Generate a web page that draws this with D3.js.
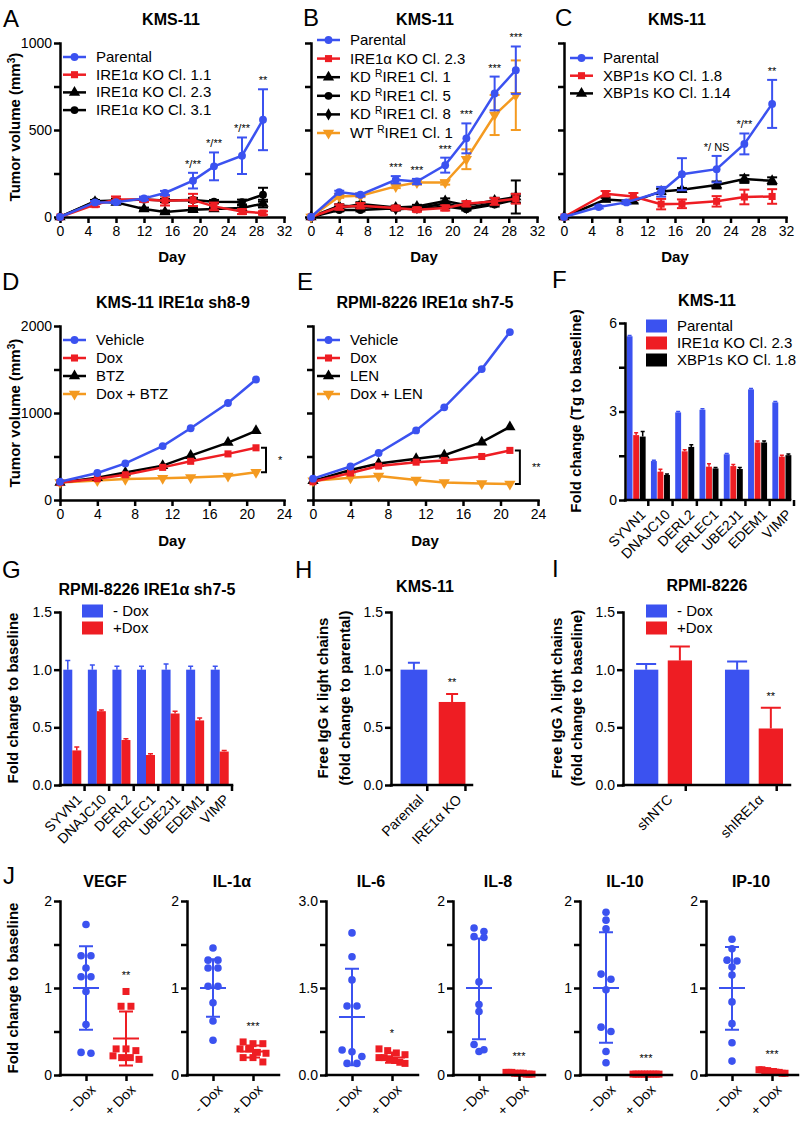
<!DOCTYPE html>
<html>
<head>
<meta charset="utf-8">
<script src="https://cdn.jsdelivr.net/npm/d3@7"></script>
<style>
body { margin: 0; background: #fff; }
text { font-family: "Liberation Sans", Arial, Helvetica, sans-serif; fill: #000; }
</style>
</head>
<body>
<svg id="fig" width="800" height="1127"></svg>
<script>
const BLUE = "#3b52f0";
const RED = "#ee1d23";
const ORANGE = "#f49a20";
const BLACK = "#000";

// tick values
const dayTicks32 = [0, 4, 8, 12, 16, 20, 24, 28, 32];
const dayTicks24 = [0, 4, 8, 12, 16, 20, 24];
const volTicks1000 = [0, 250, 500, 750, 1000];
const volLabels1000 = [0, 500, 1000];
const volTicks2000 = [0, 500, 1000, 1500, 2000];
const volLabels2000 = [0, 1000, 2000];
const foldTicks6 = [0, 1.5, 3, 4.5, 6];
const foldLabels6 = [0, 3, 6];
const ratioTicks = [0, 0.5, 1, 1.5];
const jTicks2 = [0, 0.5, 1, 1.5, 2];
const jLabels2 = [0, 1, 2];
const jTicks3 = [0, 0.75, 1.5, 2.25, 3];
const jLabels3 = [0, 1.5, 3];

// A
const aDays = [0, 5, 8, 12, 15, 19, 22, 26, 29];
const aParental = [0, 84, 85, 107, 138, 209, 291, 352, 559];
const aParentalErr = [0, 8, 8, 10, 12, 45, 80, 105, 175];
const aKO11 = [0, 71, 100, 100, 94, 98, 61, 31, 23];
const aKO11Err = [0, 12, 18, 12, 28, 35, 22, 14, 10];
const aKO23 = [0, 88, 84, 46, 29, 42, 46, 52, 77];
const aKO23Err = [0, 8, 8, 8, 8, 10, 10, 14, 22];
const aKO31 = [0, 90, 95, 100, 95, 98, 88, 86, 128];
const aKO31Err = [0, 8, 10, 10, 10, 12, 10, 14, 40];
const aSig = ["", "", "", "", "", "*/**", "*/**", "*/**", "**"];

// B
const bDays = [0, 4, 7, 12, 15, 19, 22, 26, 29];
const bParental = [0, 143, 128, 214, 204, 298, 452, 710, 844];
const bParentalErr = [0, 8, 8, 21, 15, 43, 86, 97, 136];
const bKO23 = [0, 57, 65, 52, 42, 52, 76, 90, 105];
const bKO23Err = [0, 15, 15, 10, 12, 15, 15, 20, 28];
const bKD1 = [0, 50, 75, 55, 60, 92, 68, 95, 115];
const bKD1Err = [0, 10, 10, 10, 10, 15, 10, 15, 95];
const bKD5 = [0, 40, 40, 50, 45, 60, 45, 72, 100];
const bKD5Err = [0, 8, 8, 8, 8, 10, 8, 12, 20];
const bKD8 = [0, 65, 60, 45, 50, 78, 50, 82, 108];
const bKD8Err = [0, 8, 8, 8, 8, 10, 8, 12, 25];
const bWT = [0, 118, 122, 176, 198, 198, 332, 586, 700];
const bWTErr = [0, 8, 8, 10, 12, 12, 57, 115, 200];
const bSig = ["", "", "", "***", "***", "***", "***", "***", "***"];

// C
const cDaysP = [0, 5, 9, 14, 17, 22, 26, 30];
const cParental = [0, 57, 84, 145, 246, 275, 420, 650];
const cParentalErr = [0, 8, 10, 28, 92, 76, 60, 138];
const cDaysKO = [0, 6, 10, 14, 17, 22, 26, 30];
const cXbp18 = [0, 134, 118, 74, 76, 90, 115, 118];
const cXbp18Err = [0, 15, 20, 30, 25, 30, 42, 42];
const cXbp114 = [0, 100, 90, 147, 157, 184, 218, 208];
const cXbp114Err = [0, 10, 10, 15, 10, 20, 22, 20];
const cSig = ["", "", "", "", "", "*/ NS", "*/**", "**"];

// D
const dDays = [0, 4, 7, 11, 14, 18, 21];
const dVehicle = [210, 310, 420, 620, 825, 1115, 1385];
const dDox = [200, 245, 290, 375, 445, 530, 600];
const dBtz = [200, 255, 315, 395, 510, 660, 795];
const dDoxBtz = [200, 225, 240, 250, 260, 275, 320];

// E
const eDays = [0, 4, 7, 11, 14, 18, 21];
const eVehicle = [245, 385, 540, 800, 1065, 1505, 1930];
const eDox = [210, 310, 390, 435, 455, 500, 570];
const eLen = [220, 345, 420, 475, 515, 665, 840];
const eDoxLen = [220, 255, 275, 230, 200, 190, 185];

// F
const fGenes = ["SYVN1", "DNAJC10", "DERL2", "ERLEC1", "UBE2J1", "EDEM1", "VIMP"];
const fParental = [5.55, 1.32, 2.97, 3.06, 1.55, 3.75, 3.31];
const fParentalErr = [0.03, 0.03, 0.03, 0.03, 0.03, 0.03, 0.03];
const fIre = [2.2, 0.96, 1.65, 1.13, 1.15, 1.95, 1.47];
const fIreErr = [0.08, 0.08, 0.05, 0.1, 0.05, 0.05, 0.05];
const fXbp = [2.15, 0.85, 1.8, 1.07, 1.05, 1.95, 1.52];
const fXbpErr = [0.17, 0.03, 0.07, 0.03, 0.05, 0.05, 0.04];

// G
const gGenes = ["SYVN1", "DNAJC10", "DERL2", "ERLEC1", "UBE2J1", "EDEM1", "VIMP"];
const gMinus = [1, 1, 1, 1, 1, 1, 1];
const gMinusErr = [0.08, 0.04, 0.03, 0.03, 0.05, 0.03, 0.03];
const gPlus = [0.30, 0.64, 0.39, 0.26, 0.62, 0.56, 0.29];
const gPlusErr = [0.03, 0.01, 0.01, 0.01, 0.02, 0.02, 0.01];

// H
const hGroups = ["Parental", "IRE1α KO"];
const hVals = [1.0, 0.72];
const hErrs = [0.06, 0.07];
const hSig = ["", "**"];

// I
const iGroups = ["shNTC", "shIRE1α"];
const iMinus = [1.0, 1.0];
const iMinusErr = [0.05, 0.07];
const iPlus = [1.08, 0.49];
const iPlusErr = [0.12, 0.18];
const iSig = ["", "**"];

// J
const jNames = ["VEGF", "IL-1α", "IL-6", "IL-8", "IL-10", "IP-10"];
const jGroups = ["- Dox", "+ Dox"];
const jMax = [2, 2, 3, 2, 2, 2];
const jMinus = [
  [1.73, 1.37, 1.37, 1.23, 1.13, 1.13, 0.96, 0.58, 0.25, 0.26],
  [1.46, 1.32, 1.32, 1.23, 1.23, 1.02, 1.02, 0.83, 0.62, 0.40],
  [2.45, 2.04, 1.64, 1.19, 1.19, 0.43, 0.40, 0.32, 0.20, 0.20],
  [1.69, 1.65, 1.59, 1.58, 1.07, 0.81, 0.73, 0.35, 0.29, 0.27],
  [1.87, 1.78, 1.68, 1.16, 1.10, 0.98, 0.55, 0.50, 0.27, 0.14],
  [1.56, 1.45, 1.32, 1.31, 1.24, 1.15, 0.84, 0.59, 0.37, 0.16]
];
const jPlus = [
  [0.96, 0.79, 0.79, 0.30, 0.28, 0.30, 0.22, 0.20, 0.18, 0.20],
  [0.38, 0.36, 0.36, 0.30, 0.30, 0.26, 0.25, 0.20, 0.20, 0.15],
  [0.45, 0.42, 0.38, 0.35, 0.30, 0.30, 0.28, 0.25, 0.22, 0.20],
  [0.03, 0.02, 0.01, 0.02, 0.03, 0.01, 0.02, 0.02, 0.01, 0.03],
  [0.01, 0.01, 0.01, 0.01, 0.01, 0.01, 0.01, 0.01, 0.01, 0.01],
  [0.06, 0.05, 0.04, 0.03, 0.02, 0.05, 0.04, 0.03, 0.02, 0.06]
];
const jMeanMinus = [1.0, 1.0, 1.0, 1.0, 1.0, 1.0];
const jSdMinus = [[0.52, 1.48], [0.67, 1.33], [0.17, 1.83], [0.41, 1.57], [0.37, 1.64], [0.52, 1.47]];
const jMeanPlus = [0.42, 0.27, 0.30, 0.02, 0.01, 0.04];
const jSdPlus = [[0.11, 0.73], [0.20, 0.34], [0.21, 0.39], [0.01, 0.03], [0.005, 0.015], [0.02, 0.06]];
const jSig = ["**", "***", "*", "***", "***", "***"];

let svg = d3.select("#fig");

// ---------- helpers ----------
function styleAxis(g) {
  g.attr("font-family", null).attr("font-size", null);
  g.select(".domain").attr("stroke", "#000").attr("stroke-width", 2.5).attr("stroke-linecap", "square");
  g.selectAll(".tick line").attr("stroke", "#000").attr("stroke-width", 2.5);
  g.selectAll(".tick text").attr("font-size", 14).attr("fill", "#000");
}

function yAxis(x0, y, ticks, labels, fmt) {
  let g = svg.append("g")
    .attr("transform", `translate(${x0},0)`)
    .call(d3.axisLeft(y).tickValues(ticks).tickSize(6).tickSizeOuter(0).tickPadding(2)
      .tickFormat(d => labels.includes(d) ? fmt(d) : ""));
  styleAxis(g);
}

function xAxisLinear(y0, x, ticks) {
  let g = svg.append("g")
    .attr("transform", `translate(0,${y0})`)
    .call(d3.axisBottom(x).tickValues(ticks).tickSize(6).tickSizeOuter(0).tickPadding(3));
  styleAxis(g);
}

function xAxisCat(y0, x, x1, x2, labels) {
  let half = x.bandwidth ? x.bandwidth() / 2 : 0;
  let g = svg.append("g")
    .attr("transform", `translate(${half},${y0})`)
    .call(d3.axisBottom(x).tickSize(6).tickSizeOuter(0).tickFormat(""));
  g.select(".domain").remove();
  styleAxis(g);
  svg.append("line")
    .attr("x1", x1).attr("x2", x2).attr("y1", y0).attr("y2", y0)
    .attr("stroke", "#000").attr("stroke-width", 2.5).attr("stroke-linecap", "square");
  svg.append("g").selectAll("text")
    .data(x.domain())
    .join("text")
    .attr("transform", (d) => `translate(${x(d) + half + 7},${y0 + 12}) rotate(-45)`)
    .attr("text-anchor", "end")
    .attr("dy", "0.35em")
    .attr("font-size", 14)
    .text((d, i) => labels[i]);
}

function richText(sel, str) {
  str.split("^").forEach((s, i) => {
    let t = sel.append("tspan").text(s);
    if (i % 2) t.attr("baseline-shift", "super").attr("font-size", "68%");
  });
}

function label(x, y, str, size, weight, anchor) {
  let t = svg.append("text")
    .attr("x", x).attr("y", y)
    .attr("font-size", size)
    .attr("font-weight", weight || "normal")
    .attr("text-anchor", anchor || "start");
  richText(t, str);
  return t;
}

function yTitle(x, y, str) {
  let t = svg.append("text")
    .attr("transform", `translate(${x},${y}) rotate(-90)`)
    .attr("text-anchor", "middle")
    .attr("font-size", 15)
    .attr("font-weight", "bold");
  richText(t, str);
}

function symbolPath(type, size) {
  let sym = {circle: d3.symbolCircle, square: d3.symbolSquare, triangle: d3.symbolTriangle,
             down: d3.symbolTriangle, diamond: d3.symbolDiamond}[type];
  return d3.symbol().type(sym).size(size)();
}
const markerSize = {circle: 48, square: 50, triangle: 55, down: 55, diamond: 42};

function drawMarker(g, type, color) {
  g.append("path")
    .attr("d", symbolPath(type, markerSize[type]))
    .attr("transform", type === "down" ? "rotate(180)" : null)
    .attr("fill", color);
}

function linePanel(p) {
  let x = d3.scaleLinear().domain([0, p.xMax]).range(p.xr);
  let y = d3.scaleLinear().domain([0, p.yMax]).range(p.yr);
  yAxis(p.xr[0], y, p.yTicks, p.yLabels, p.yFmt || (d => d));
  xAxisLinear(p.yr[0], x, p.xTicks);

  p.series.forEach(s => {
    let pts = s.days.map((d, i) => ({d: d, v: s.vals[i], e: s.errs ? s.errs[i] : 0}));
    let g = svg.append("g");
    g.append("path")
      .datum(pts)
      .attr("d", d3.line().x(q => x(q.d)).y(q => y(q.v)))
      .attr("fill", "none")
      .attr("stroke", s.color)
      .attr("stroke-width", 2.5);
    let eb = g.selectAll(".eb").data(pts.filter(q => q.e > 0)).join("g");
    eb.append("line")
      .attr("x1", q => x(q.d)).attr("x2", q => x(q.d))
      .attr("y1", q => y(q.v - q.e)).attr("y2", q => y(q.v + q.e))
      .attr("stroke", s.color).attr("stroke-width", 2);
    [-1, 1].forEach(k => {
      eb.append("line")
        .attr("x1", q => x(q.d) - 5).attr("x2", q => x(q.d) + 5)
        .attr("y1", q => y(q.v + k * q.e)).attr("y2", q => y(q.v + k * q.e))
        .attr("stroke", s.color).attr("stroke-width", 2);
    });
    g.selectAll(".mk").data(pts).join("g")
      .attr("transform", q => `translate(${x(q.d)},${y(q.v)})`)
      .each(function () { drawMarker(d3.select(this), s.mk, s.color); });
  });

  if (p.sig) {
    svg.append("g").selectAll("text")
      .data(p.sig.days.map((d, i) => ({d: d, top: p.sig.vals[i] + p.sig.errs[i], t: p.sig.labels[i]})))
      .join("text")
      .attr("x", q => x(q.d))
      .attr("y", q => y(q.top) - 5)
      .attr("text-anchor", "middle")
      .attr("font-size", 11)
      .text(q => q.t);
  }
  return {x: x, y: y};
}

function lineLegend(x, y0, dy, items) {
  items.forEach((it, i) => {
    let yc = y0 + i * dy;
    svg.append("line")
      .attr("x1", x).attr("x2", x + 23).attr("y1", yc).attr("y2", yc)
      .attr("stroke", it.color).attr("stroke-width", 2.5);
    let g = svg.append("g").attr("transform", `translate(${x + 11.5},${yc})`);
    drawMarker(g, it.mk, it.color);
    label(x + 33, yc + 5, it.text, 15);
  });
}

function boxLegend(x, y0, dy, items) {
  items.forEach((it, i) => {
    let yc = y0 + i * dy;
    svg.append("rect")
      .attr("x", x).attr("y", yc - 6.5).attr("width", 21).attr("height", 13)
      .attr("fill", it.color);
    label(x + 31, yc + 5, it.text, 15);
  });
}

function bracket(x, yA, yB, txt) {
  svg.append("path")
    .attr("d", `M${x - 5},${yA}H${x}V${yB}H${x - 5}`)
    .attr("fill", "none").attr("stroke", "#000").attr("stroke-width", 2);
  svg.append("text")
    .attr("x", x + 12).attr("y", (yA + yB) / 2 + 4)
    .attr("font-size", 11)
    .text(txt);
}

function upBars(g, data, color, err) {
  // data: [{cx, w, v, e}] already in pixel x, value in y units
}

// ---------- Row 1 ----------
label(3, 27, "A", 24);
label(171, 25, "KMS-11", 16, "bold", "middle");
linePanel({
  xr: [60, 284], yr: [217, 43], xMax: 32, yMax: 1000,
  xTicks: dayTicks32, yTicks: volTicks1000, yLabels: volLabels1000,
  series: [
    {days: aDays, vals: aKO31, errs: aKO31Err, color: BLACK, mk: "circle"},
    {days: aDays, vals: aKO23, errs: aKO23Err, color: BLACK, mk: "triangle"},
    {days: aDays, vals: aKO11, errs: aKO11Err, color: RED, mk: "square"},
    {days: aDays, vals: aParental, errs: aParentalErr, color: BLUE, mk: "circle"}
  ],
  sig: {days: aDays, vals: aParental, errs: aParentalErr, labels: aSig}
});
lineLegend(63, 57, 17.7, [
  {text: "Parental", color: BLUE, mk: "circle"},
  {text: "IRE1α KO Cl. 1.1", color: RED, mk: "square"},
  {text: "IRE1α KO Cl. 2.3", color: BLACK, mk: "triangle"},
  {text: "IRE1α KO Cl. 3.1", color: BLACK, mk: "circle"}
]);
yTitle(20, 127, "Tumor volume (mm^3^)");
label(172, 262, "Day", 15, "bold", "middle");

label(303, 26, "B", 24);
label(425, 25, "KMS-11", 16, "bold", "middle");
linePanel({
  xr: [311, 537], yr: [217, 43], xMax: 32, yMax: 1000,
  xTicks: dayTicks32, yTicks: volTicks1000, yLabels: [],
  series: [
    {days: bDays, vals: bKD8, errs: bKD8Err, color: BLACK, mk: "diamond"},
    {days: bDays, vals: bKD5, errs: bKD5Err, color: BLACK, mk: "circle"},
    {days: bDays, vals: bKD1, errs: bKD1Err, color: BLACK, mk: "triangle"},
    {days: bDays, vals: bKO23, errs: bKO23Err, color: RED, mk: "square"},
    {days: bDays, vals: bWT, errs: bWTErr, color: ORANGE, mk: "down"},
    {days: bDays, vals: bParental, errs: bParentalErr, color: BLUE, mk: "circle"}
  ],
  sig: {days: bDays, vals: bParental, errs: bParentalErr, labels: bSig}
});
lineLegend(317, 40, 18.6, [
  {text: "Parental", color: BLUE, mk: "circle"},
  {text: "IRE1α KO Cl. 2.3", color: RED, mk: "square"},
  {text: "KD ^R^IRE1 Cl. 1", color: BLACK, mk: "triangle"},
  {text: "KD ^R^IRE1 Cl. 5", color: BLACK, mk: "circle"},
  {text: "KD ^R^IRE1 Cl. 8", color: BLACK, mk: "diamond"},
  {text: "WT ^R^IRE1 Cl. 1", color: ORANGE, mk: "down"}
]);
label(424, 262, "Day", 15, "bold", "middle");

label(555, 26, "C", 24);
label(677, 25, "KMS-11", 16, "bold", "middle");
linePanel({
  xr: [564, 786], yr: [217, 43], xMax: 32, yMax: 1000,
  xTicks: dayTicks32, yTicks: volTicks1000, yLabels: [],
  series: [
    {days: cDaysKO, vals: cXbp114, errs: cXbp114Err, color: BLACK, mk: "triangle"},
    {days: cDaysKO, vals: cXbp18, errs: cXbp18Err, color: RED, mk: "square"},
    {days: cDaysP, vals: cParental, errs: cParentalErr, color: BLUE, mk: "circle"}
  ],
  sig: {days: cDaysP, vals: cParental, errs: cParentalErr, labels: cSig}
});
lineLegend(570, 58, 17.7, [
  {text: "Parental", color: BLUE, mk: "circle"},
  {text: "XBP1s KO Cl. 1.8", color: RED, mk: "square"},
  {text: "XBP1s KO Cl. 1.14", color: BLACK, mk: "triangle"}
]);
label(675, 262, "Day", 15, "bold", "middle");

// ---------- Row 2 ----------
label(2, 290, "D", 24);
label(173, 308, "KMS-11 IRE1α sh8-9", 16, "bold", "middle");
let dSc = linePanel({
  xr: [60, 284], yr: [500, 326], xMax: 24, yMax: 2000,
  xTicks: dayTicks24, yTicks: volTicks2000, yLabels: volLabels2000,
  series: [
    {days: dDays, vals: dDoxBtz, color: ORANGE, mk: "down"},
    {days: dDays, vals: dBtz, color: BLACK, mk: "triangle"},
    {days: dDays, vals: dDox, color: RED, mk: "square"},
    {days: dDays, vals: dVehicle, color: BLUE, mk: "circle"}
  ]
});
lineLegend(63, 340, 18, [
  {text: "Vehicle", color: BLUE, mk: "circle"},
  {text: "Dox", color: RED, mk: "square"},
  {text: "BTZ", color: BLACK, mk: "triangle"},
  {text: "Dox + BTZ", color: ORANGE, mk: "down"}
]);
bracket(dSc.x(dDays[6]) + 10, dSc.y(dDox[6]), dSc.y(dDoxBtz[6]), "*");
yTitle(20, 413, "Tumor volume (mm^3^)");
label(172, 546, "Day", 15, "bold", "middle");

label(297, 290, "E", 24);
label(425, 308, "RPMI-8226 IRE1α sh7-5", 16, "bold", "middle");
let eSc = linePanel({
  xr: [313, 538], yr: [500, 326], xMax: 24, yMax: 2000,
  xTicks: dayTicks24, yTicks: volTicks2000, yLabels: [],
  series: [
    {days: eDays, vals: eDoxLen, color: ORANGE, mk: "down"},
    {days: eDays, vals: eLen, color: BLACK, mk: "triangle"},
    {days: eDays, vals: eDox, color: RED, mk: "square"},
    {days: eDays, vals: eVehicle, color: BLUE, mk: "circle"}
  ]
});
lineLegend(317, 340, 18, [
  {text: "Vehicle", color: BLUE, mk: "circle"},
  {text: "Dox", color: RED, mk: "square"},
  {text: "LEN", color: BLACK, mk: "triangle"},
  {text: "Dox + LEN", color: ORANGE, mk: "down"}
]);
bracket(eSc.x(eDays[6]) + 10, eSc.y(eDox[6]), eSc.y(eDoxLen[6]), "**");
label(425, 546, "Day", 15, "bold", "middle");

// F
label(552, 288, "F", 24);
label(707, 306, "KMS-11", 16, "bold", "middle");
{
  let x = d3.scaleBand().domain(fGenes).range([624, 794]);
  let y = d3.scaleLinear().domain([0, 6]).range([500, 323]);
  let sub = d3.scaleBand().domain([0, 1, 2]).range([-9.5, 9.5]).paddingInner(0.1);
  let sets = [[fParental, fParentalErr, BLUE], [fIre, fIreErr, RED], [fXbp, fXbpErr, BLACK]];
  sets.forEach((s, k) => {
    let g = svg.append("g");
    let rows = fGenes.map((gname, i) => ({c: x(gname) + x.bandwidth() / 2 + sub(k) + sub.bandwidth() / 2, v: s[0][i], e: s[1][i]}));
    g.selectAll("rect").data(rows).join("rect")
      .attr("x", r => r.c - sub.bandwidth() / 2).attr("width", sub.bandwidth())
      .attr("y", r => y(r.v)).attr("height", r => y(0) - y(r.v))
      .attr("fill", s[2]);
    g.selectAll(".e").data(rows).join("path")
      .attr("d", r => `M${r.c},${y(r.v)}V${y(r.v + r.e)}M${r.c - 2},${y(r.v + r.e)}H${r.c + 2}`)
      .attr("stroke", s[2]).attr("stroke-width", 1.5).attr("fill", "none");
  });
  yAxis(625, y, foldTicks6, foldLabels6, d => d);
  xAxisCat(500, x, 625, 790, fGenes);
  boxLegend(646, 326, 17, [
    {text: "Parental", color: BLUE},
    {text: "IRE1α KO Cl. 2.3", color: RED},
    {text: "XBP1s KO Cl. 1.8", color: BLACK}
  ]);
  yTitle(581, 411, "Fold change (Tg to baseline)");
}

// ---------- Row 3 ----------
label(2, 578, "G", 24);
label(147, 595, "RPMI-8226 IRE1α sh7-5", 16, "bold", "middle");
{
  let x = d3.scaleBand().domain(gGenes).range([60, 232]);
  let y = d3.scaleLinear().domain([0, 1.5]).range([785, 612]);
  let sub = d3.scaleBand().domain([0, 1]).range([-9, 9]);
  [[gMinus, gMinusErr, BLUE], [gPlus, gPlusErr, RED]].forEach((s, k) => {
    let g = svg.append("g");
    let rows = gGenes.map((gname, i) => ({c: x(gname) + x.bandwidth() / 2 + sub(k) + sub.bandwidth() / 2, v: s[0][i], e: s[1][i]}));
    g.selectAll("rect").data(rows).join("rect")
      .attr("x", r => r.c - sub.bandwidth() / 2).attr("width", sub.bandwidth())
      .attr("y", r => y(r.v)).attr("height", r => y(0) - y(r.v))
      .attr("fill", s[2]);
    g.selectAll(".e").data(rows).join("path")
      .attr("d", r => `M${r.c},${y(r.v)}V${y(r.v + r.e)}M${r.c - 2.5},${y(r.v + r.e)}H${r.c + 2.5}`)
      .attr("stroke", s[2]).attr("stroke-width", 1.5).attr("fill", "none");
  });
  yAxis(60, y, ratioTicks, ratioTicks, d3.format(".1f"));
  xAxisCat(785, x, 60, 232, gGenes);
  boxLegend(82, 611, 17, [
    {text: "- Dox", color: BLUE},
    {text: "+Dox", color: RED}
  ]);
  yTitle(18, 698, "Fold change to baseline");
}

// H
label(295, 578, "H", 24);
label(425, 592, "KMS-11", 16, "bold", "middle");
{
  let x = d3.scaleBand().domain(hGroups).range([391, 475]).paddingInner(0.3).paddingOuter(0.25);
  let y = d3.scaleLinear().domain([0, 1.5]).range([785, 612]);
  let rows = hGroups.map((gname, i) => ({c: x(gname) + x.bandwidth() / 2, v: hVals[i], e: hErrs[i], col: i ? RED : BLUE, s: hSig[i]}));
  let g = svg.append("g");
  g.selectAll("rect").data(rows).join("rect")
    .attr("x", r => r.c - x.bandwidth() / 2).attr("width", x.bandwidth())
    .attr("y", r => y(r.v)).attr("height", r => y(0) - y(r.v))
    .attr("fill", r => r.col);
  g.selectAll(".e").data(rows).join("path")
    .attr("d", r => `M${r.c},${y(r.v)}V${y(r.v + r.e)}M${r.c - 6},${y(r.v + r.e)}H${r.c + 6}`)
    .attr("stroke", r => r.col).attr("stroke-width", 2).attr("fill", "none");
  g.selectAll(".s").data(rows).join("text")
    .attr("x", r => r.c).attr("y", r => y(r.v + r.e) - 8)
    .attr("text-anchor", "middle").attr("font-size", 11)
    .text(r => r.s);
  yAxis(391, y, ratioTicks, ratioTicks, d3.format(".1f"));
  xAxisCat(785, x, 391, 472, hGroups);
  yTitle(328, 698, "Free IgG κ light chains");
  yTitle(350, 698, "(fold change to parental)");
}

// I
label(552, 577, "I", 24);
label(707, 591, "RPMI-8226", 16, "bold", "middle");
{
  let x = d3.scaleBand().domain(iGroups).range([623, 794]).paddingInner(0.5).paddingOuter(0.19);
  let y = d3.scaleLinear().domain([0, 1.5]).range([785, 612]);
  let sub = d3.scaleBand().domain([0, 1]).range([-29, 29]).paddingInner(0.28);
  [[iMinus, iMinusErr, BLUE, ["", ""]], [iPlus, iPlusErr, RED, iSig]].forEach((s, k) => {
    let g = svg.append("g");
    let rows = iGroups.map((gname, i) => ({c: x(gname) + x.bandwidth() / 2 + sub(k) + sub.bandwidth() / 2, v: s[0][i], e: s[1][i], t: s[3][i]}));
    g.selectAll("rect").data(rows).join("rect")
      .attr("x", r => r.c - sub.bandwidth() / 2).attr("width", sub.bandwidth())
      .attr("y", r => y(r.v)).attr("height", r => y(0) - y(r.v))
      .attr("fill", s[2]);
    g.selectAll(".e").data(rows).join("path")
      .attr("d", r => `M${r.c},${y(r.v)}V${y(r.v + r.e)}M${r.c - 10},${y(r.v + r.e)}H${r.c + 10}`)
      .attr("stroke", s[2]).attr("stroke-width", 2).attr("fill", "none");
    g.selectAll(".s").data(rows).join("text")
      .attr("x", r => r.c).attr("y", r => y(r.v + r.e) - 8)
      .attr("text-anchor", "middle").attr("font-size", 11)
      .text(r => r.t);
  });
  yAxis(623, y, ratioTicks, ratioTicks, d3.format(".1f"));
  xAxisCat(785, x, 623, 790, iGroups);
  boxLegend(646, 611, 17, [
    {text: "- Dox", color: BLUE},
    {text: "+Dox", color: RED}
  ]);
  yTitle(562, 698, "Free IgG λ light chains");
  yTitle(582, 698, "(fold change to baseline)");
}

// ---------- Row 4: J ----------
label(3, 884, "J", 24);
yTitle(18, 988, "Fold change to baseline");

const jAxisX = [60, 187, 326, 453, 580, 706];

function swarm(vals, y, cx, r) {
  let pts = vals.map(v => ({v: v, py: y(v)})).sort((a, b) => a.py - b.py);
  let rows = [];
  pts.forEach(p => {
    let row = rows[rows.length - 1];
    if (row && p.py - row[0].py < r * 1.8) row.push(p);
    else rows.push([p]);
  });
  rows.forEach(row => {
    let gap = Math.min(r * 2.6, 26 / Math.max(row.length - 1, 1));
    row.forEach((p, i) => { p.px = cx + (i - (row.length - 1) / 2) * gap; });
  });
  return pts;
}

jNames.forEach((name, j) => {
  let x0 = jAxisX[j];
  let x = d3.scalePoint().domain(jGroups).range([x0, x0 + 92]).padding(0.65);
  let y = d3.scaleLinear().domain([0, jMax[j]]).range([1075, 901]);
  let three = jMax[j] === 3;

  label(x0 + 45, 887, name, 16, "bold", "middle");

  let g = svg.append("g");
  let ptsM = swarm(jMinus[j], y, x(jGroups[0]), 3.8);
  g.selectAll(".m").data(ptsM).join("circle")
    .attr("cx", p => p.px).attr("cy", p => p.py).attr("r", 3.8)
    .attr("fill", BLUE);
  let ptsP = swarm(jPlus[j], y, x(jGroups[1]), 3.8);
  g.selectAll(".p").data(ptsP).join("rect")
    .attr("x", p => p.px - 3.5).attr("y", p => p.py - 3.5)
    .attr("width", 7).attr("height", 7)
    .attr("fill", RED);

  [[jMeanMinus[j], jSdMinus[j], BLUE, jGroups[0]], [jMeanPlus[j], jSdPlus[j], RED, jGroups[1]]].forEach(s => {
    let c = x(s[3]);
    g.append("path")
      .attr("d", `M${c - 13},${y(s[0])}H${c + 13}M${c},${y(s[1][0])}V${y(s[1][1])}M${c - 7},${y(s[1][0])}H${c + 7}M${c - 7},${y(s[1][1])}H${c + 7}`)
      .attr("stroke", s[2]).attr("stroke-width", 2).attr("fill", "none");
  });

  g.append("text")
    .attr("x", x(jGroups[1]))
    .attr("y", y(d3.max(jPlus[j])) - 12)
    .attr("text-anchor", "middle").attr("font-size", 11)
    .text(jSig[j]);

  yAxis(x0, y, three ? jTicks3 : jTicks2, three ? jLabels3 : jLabels2, three ? d3.format(".1f") : (d => d));
  xAxisCat(1075, x, x0, x0 + 92, jGroups);
});
</script>
</body>
</html>
